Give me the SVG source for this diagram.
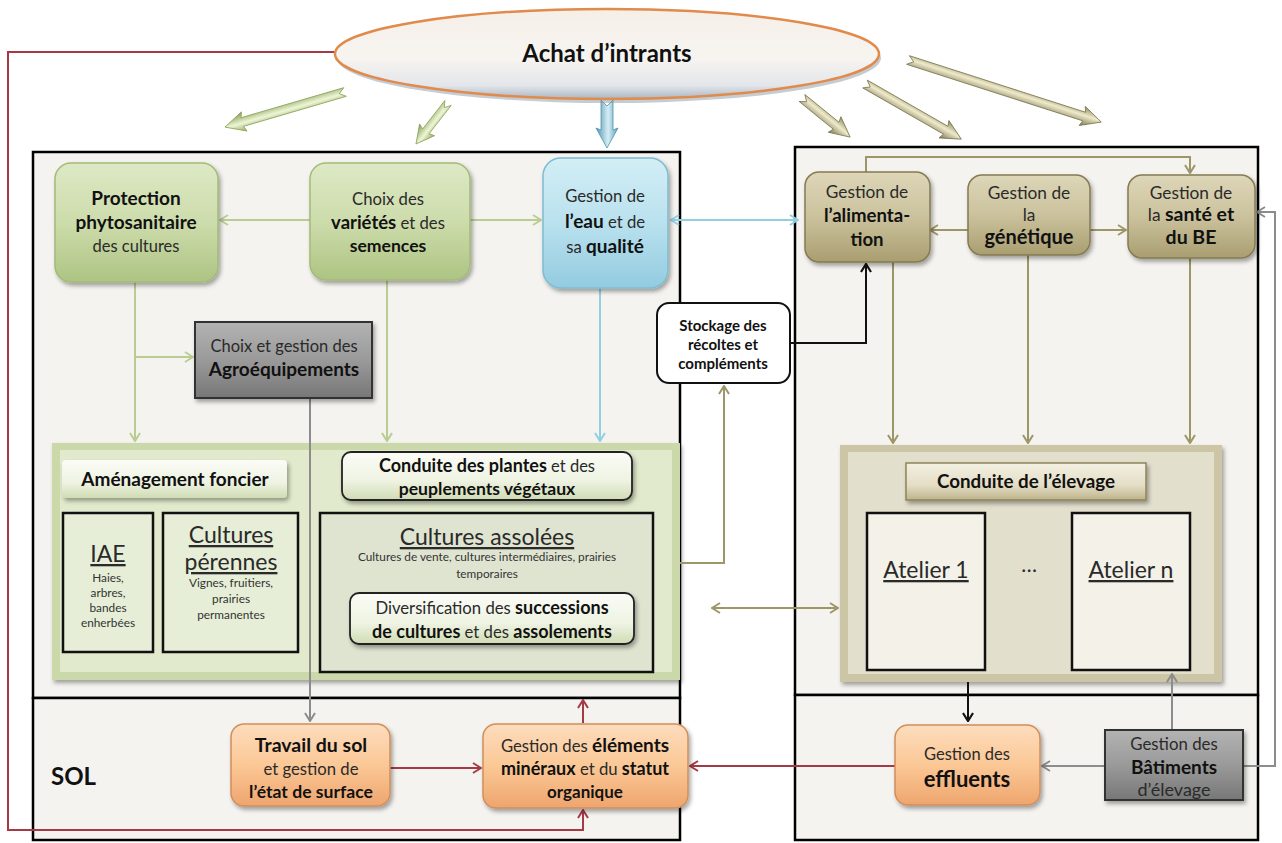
<svg xmlns="http://www.w3.org/2000/svg" width="1282" height="843" viewBox="0 0 1282 843">
<defs>
<style>
text{font-family:Lato,"Liberation Sans",sans-serif;fill:#2a2a2a;text-anchor:middle;font-size:16.7px}
.b{font-weight:bold;fill:#111}
.sm{font-size:11.8px;fill:#333}
.big{font-size:23px}
.u{text-decoration:underline}
.frame{fill:#f4f3ef;stroke:#000;stroke-width:2.5}
.gn{fill:url(#gGreen);stroke:#a3bb77;stroke-width:1.5}
.bl{fill:url(#gBlue);stroke:#7dbcd2;stroke-width:1.5}
.kh{fill:url(#gKhaki);stroke:#857b52;stroke-width:1.5}
.or{fill:url(#gOrange);stroke:#d08f5c;stroke-width:1.5}
.gr{fill:url(#gGray);stroke:#333;stroke-width:2}
.cg{stroke:#b9cd93;stroke-width:2;fill:none}
.cb{stroke:#92cfe2;stroke-width:2;fill:none}
.co{stroke:#9d9666;stroke-width:2;fill:none}
.ck{stroke:#111;stroke-width:2;fill:none}
.cy{stroke:#8c8c8c;stroke-width:2;fill:none}
.cr{stroke:#a63a44;stroke-width:2;fill:none}
</style>
<filter id="sh" x="-10%" y="-10%" width="130%" height="140%"><feDropShadow dx="2" dy="3" stdDeviation="2" flood-color="#000" flood-opacity="0.35"/></filter>
<linearGradient id="gGreen" x1="0" y1="0" x2="0" y2="1"><stop offset="0" stop-color="#dde9c5"/><stop offset="0.5" stop-color="#cddcab"/><stop offset="1" stop-color="#adc483"/></linearGradient>
<linearGradient id="gBlue" x1="0" y1="0" x2="0" y2="1"><stop offset="0" stop-color="#d3eef6"/><stop offset="0.5" stop-color="#b9e1ee"/><stop offset="1" stop-color="#93cbe0"/></linearGradient>
<linearGradient id="gKhaki" x1="0" y1="0" x2="0" y2="1"><stop offset="0" stop-color="#ddd6b8"/><stop offset="0.5" stop-color="#cbc29d"/><stop offset="1" stop-color="#a99e70"/></linearGradient>
<linearGradient id="gOrange" x1="0" y1="0" x2="0" y2="1"><stop offset="0" stop-color="#fddcbd"/><stop offset="0.5" stop-color="#fbc896"/><stop offset="1" stop-color="#eea56e"/></linearGradient>
<linearGradient id="gGray" x1="0" y1="0" x2="0" y2="1"><stop offset="0" stop-color="#b3b3b3"/><stop offset="0.5" stop-color="#9a9a9a"/><stop offset="1" stop-color="#777"/></linearGradient>
<linearGradient id="gLabelG" x1="0" y1="0" x2="0" y2="1"><stop offset="0" stop-color="#fbfcf7"/><stop offset="0.6" stop-color="#eef3e2"/><stop offset="1" stop-color="#cfdcb3"/></linearGradient>
<linearGradient id="gLabelK" x1="0" y1="0" x2="0" y2="1"><stop offset="0" stop-color="#f3f0e2"/><stop offset="0.6" stop-color="#e4dec6"/><stop offset="1" stop-color="#bdb38a"/></linearGradient>
<linearGradient id="gEll" x1="0" y1="0" x2="0" y2="1"><stop offset="0" stop-color="#f6efe8"/><stop offset="0.55" stop-color="#f7f4f0"/><stop offset="0.85" stop-color="#e3e6ea"/><stop offset="1" stop-color="#a9b6c4"/></linearGradient>
<linearGradient id="aG" gradientUnits="userSpaceOnUse" x1="0" y1="-10" x2="0" y2="10"><stop offset="0" stop-color="#94ad62"/><stop offset="0.45" stop-color="#eef5d6"/><stop offset="1" stop-color="#7e9a4c"/></linearGradient>
<linearGradient id="aK" gradientUnits="userSpaceOnUse" x1="0" y1="-10" x2="0" y2="10"><stop offset="0" stop-color="#8f8a5c"/><stop offset="0.45" stop-color="#eeeacb"/><stop offset="1" stop-color="#7c7750"/></linearGradient>
<linearGradient id="aB" gradientUnits="userSpaceOnUse" x1="0" y1="-11" x2="0" y2="11"><stop offset="0" stop-color="#5c9fb8"/><stop offset="0.45" stop-color="#d6eef6"/><stop offset="1" stop-color="#4f93ad"/></linearGradient>
<marker id="mG" viewBox="0 0 10 12" refX="9" refY="6" markerWidth="10" markerHeight="12" markerUnits="userSpaceOnUse" orient="auto-start-reverse"><path d="M1,1 L9,6 L1,11" fill="none" stroke="#b9cd93" stroke-width="2"/></marker>
<marker id="mB" viewBox="0 0 10 12" refX="9" refY="6" markerWidth="10" markerHeight="12" markerUnits="userSpaceOnUse" orient="auto-start-reverse"><path d="M1,1 L9,6 L1,11" fill="none" stroke="#92cfe2" stroke-width="2"/></marker>
<marker id="mO" viewBox="0 0 10 12" refX="9" refY="6" markerWidth="10" markerHeight="12" markerUnits="userSpaceOnUse" orient="auto-start-reverse"><path d="M1,1 L9,6 L1,11" fill="none" stroke="#9d9666" stroke-width="2"/></marker>
<marker id="mK" viewBox="0 0 10 12" refX="9" refY="6" markerWidth="10" markerHeight="12" markerUnits="userSpaceOnUse" orient="auto-start-reverse"><path d="M1,1 L9,6 L1,11" fill="none" stroke="#111" stroke-width="2.2"/></marker>
<marker id="mY" viewBox="0 0 10 12" refX="9" refY="6" markerWidth="10" markerHeight="12" markerUnits="userSpaceOnUse" orient="auto-start-reverse"><path d="M1,1 L9,6 L1,11" fill="none" stroke="#8c8c8c" stroke-width="2"/></marker>
<marker id="mR" viewBox="0 0 10 12" refX="9" refY="6" markerWidth="10" markerHeight="12" markerUnits="userSpaceOnUse" orient="auto-start-reverse"><path d="M1,1 L9,6 L1,11" fill="none" stroke="#a63a44" stroke-width="2"/></marker>
</defs>

<g id="frames">
<rect class="frame" x="33" y="152" width="647" height="546"/>
<rect class="frame" x="33" y="698" width="647" height="142"/>
<rect class="frame" x="795" y="147" width="463" height="548"/>
<rect class="frame" x="795" y="695" width="463" height="145"/>
</g>

<g id="cont-vegetal">
<rect x="52" y="443" width="628" height="237" fill="#cbd9aa" filter="url(#sh)"/>
<rect x="60" y="450" width="612" height="222" fill="#e1eacc"/>
</g>
<g id="cont-elevage">
<rect x="840" y="445" width="382" height="237" fill="#cdc6a6" filter="url(#sh)"/>
<rect x="848" y="452" width="366" height="222" fill="#e3dfcd"/>
</g>

<g id="connectors">
<path class="cr" d="M337,52 H8 V830 H583 V810" marker-end="url(#mR)"/>
<path class="cg" d="M310,220 H220" marker-end="url(#mG)"/>
<path class="cg" d="M470,220 H541" marker-end="url(#mG)"/>
<path class="cg" d="M135,282 V441" marker-end="url(#mG)"/>
<path class="cg" d="M135,357 H193" marker-end="url(#mG)"/>
<path class="cg" d="M387,280 V441" marker-end="url(#mG)"/>
<path class="cb" d="M600,288 V441" marker-end="url(#mB)"/>
<path class="cb" d="M671,220 H798" marker-start="url(#mB)" marker-end="url(#mB)"/>
<path class="cy" d="M310,398 V721" marker-end="url(#mY)"/>
<path class="co" d="M680,563 H724 V386" marker-end="url(#mO)"/>
<path class="ck" d="M790,343 H866 V264" marker-end="url(#mK)"/>
<path class="co" d="M930,230 H968" marker-start="url(#mO)"/>
<path class="co" d="M1090,230 H1126" marker-end="url(#mO)"/>
<path class="co" d="M866,172 V157 H1190 V173" marker-end="url(#mO)"/>
<path class="co" d="M893,262 V443" marker-end="url(#mO)"/>
<path class="co" d="M1028,255 V443" marker-end="url(#mO)"/>
<path class="co" d="M1190,258 V443" marker-end="url(#mO)"/>
<path class="co" d="M712,608 H838" marker-start="url(#mO)" marker-end="url(#mO)"/>
<path class="ck" d="M968,682 V721" marker-end="url(#mK)"/>
<path class="cy" d="M1172,730 V674" marker-end="url(#mY)"/>
<path class="cy" d="M1243,766 H1275 V212 H1257" marker-end="url(#mY)"/>
<path class="cy" d="M1105,766 H1042" marker-end="url(#mY)"/>
<path class="cr" d="M895,766 H690" marker-end="url(#mR)"/>
<path class="cr" d="M390,768 H481" marker-end="url(#mR)"/>
<path class="cr" d="M583,723 V700" marker-end="url(#mR)"/>
</g>

<g id="input-arrows" stroke-width="0.8">
<path transform="translate(345,92) rotate(163.7)" d="M0,-4.5 L107,-4.5 L105,-10 L125,0 L105,10 L107,4.5 L0,4.5 L6,0 Z" fill="url(#aG)" stroke="#8aa35a"/>
<path transform="translate(448,103) rotate(128)" d="M0,-4 L36,-4 L34,-9.5 L52,0 L34,9.5 L36,4 L0,4 L6,0 Z" fill="url(#aG)" stroke="#8aa35a"/>
<path transform="translate(607,100) rotate(90)" d="M0,-6 L30,-6 L28,-11 L48,0 L28,11 L30,6 L0,6 L6,0 Z" fill="url(#aB)" stroke="#4f93ad"/>
<path transform="translate(802,98) rotate(39.1)" d="M0,-4.5 L44,-4.5 L42,-10 L62,0 L42,10 L44,4.5 L0,4.5 L6,0 Z" fill="url(#aK)" stroke="#7c7750"/>
<path transform="translate(865,84) rotate(29.8)" d="M0,-4.5 L93,-4.5 L91,-10 L111,0 L91,10 L93,4.5 L0,4.5 L6,0 Z" fill="url(#aK)" stroke="#7c7750"/>
<path transform="translate(908,60) rotate(17.8)" d="M0,-4.5 L185,-4.5 L183,-10 L203,0 L183,10 L185,4.5 L0,4.5 L6,0 Z" fill="url(#aK)" stroke="#7c7750"/>
</g>

<g id="achat">
<ellipse cx="609" cy="58" rx="272" ry="45" fill="#7f8d9c" opacity="0.45"/>
<ellipse cx="607" cy="54" rx="272" ry="45" fill="url(#gEll)" stroke="#e08a4c" stroke-width="2.5"/>
<text x="607" y="62" class="b" style="font-size:24px">Achat d’intrants</text>
</g>

<g id="protection">
<rect class="gn" x="55" y="163" width="163" height="119" rx="16" filter="url(#sh)"/>
<text x="136" y="205" class="b" style="font-size:19px">Protection</text>
<text x="136" y="229" class="b" style="font-size:19px">phytosanitaire</text>
<text x="136" y="252" style="font-size:16.5px">des cultures</text>
</g>
<g id="varietes">
<rect class="gn" x="310" y="163" width="160" height="117" rx="16" filter="url(#sh)"/>
<text x="388" y="205">Choix des</text>
<text x="388" y="229"><tspan class="b" style="font-size:18.5px">variétés</tspan> et des</text>
<text x="388" y="252" class="b" style="font-size:17.6px">semences</text>
</g>
<g id="eau">
<rect class="bl" x="543" y="158" width="125" height="130" rx="18" filter="url(#sh)"/>
<text x="605" y="202">Gestion de</text>
<text x="605" y="228"><tspan class="b" style="font-size:19px">l’eau</tspan> et de</text>
<text x="605" y="253">sa <tspan class="b" style="font-size:19px">qualité</tspan></text>
</g>
<g id="agro">
<rect class="gr" x="195" y="322" width="177" height="76" filter="url(#sh)"/>
<text x="284" y="352" style="font-size:16.5px">Choix et gestion des</text>
<text x="284" y="376" class="b" style="font-size:19px">Agroéquipements</text>
</g>
<g id="stockage">
<rect x="657" y="303" width="133" height="80" rx="12" fill="#fff" stroke="#111" stroke-width="2"/>
<text x="723" y="331" class="b" style="font-size:15px">Stockage des</text>
<text x="723" y="350" class="b" style="font-size:15px">récoltes et</text>
<text x="723" y="369" class="b" style="font-size:15px">compléments</text>
</g>

<g id="amenagement">
<rect x="62" y="460" width="225" height="38" rx="4" fill="url(#gLabelG)" filter="url(#sh)"/>
<text x="175" y="486" class="b" style="font-size:19px">Aménagement foncier</text>
</g>
<g id="iae">
<rect x="63" y="513" width="90" height="139" fill="#e6eed7" stroke="#111" stroke-width="2.5"/>
<text x="108" y="562" class="big u">IAE</text>
<text x="108" y="582" class="sm">Haies,</text>
<text x="108" y="597" class="sm">arbres,</text>
<text x="108" y="612" class="sm">bandes</text>
<text x="108" y="627" class="sm">enherbées</text>
</g>
<g id="perennes">
<rect x="163" y="513" width="135" height="139" fill="#e6eed7" stroke="#111" stroke-width="2.5"/>
<text x="231" y="543" class="big u">Cultures</text>
<text x="231" y="570" class="big u">pérennes</text>
<text x="231" y="587" class="sm">Vignes, fruitiers,</text>
<text x="231" y="603" class="sm">prairies</text>
<text x="231" y="619" class="sm">permanentes</text>
</g>
<g id="conduite-plantes">
<rect x="342" y="452" width="290" height="48" rx="9" fill="url(#gLabelG)" stroke="#222" stroke-width="1.8" filter="url(#sh)"/>
<text x="487" y="472" style="font-size:16.5px"><tspan class="b" style="font-size:18px">Conduite des plantes</tspan> et des</text>
<text x="487" y="495" class="b" style="font-size:17.6px">peuplements végétaux</text>
</g>
<g id="assolees">
<rect x="320" y="513" width="333" height="159" fill="#dfe4d1" stroke="#111" stroke-width="2.5"/>
<text x="487" y="545" class="big u">Cultures assolées</text>
<text x="487" y="561" class="sm">Cultures de vente, cultures intermédiaires, prairies</text>
<text x="487" y="578" class="sm">temporaires</text>
</g>
<g id="diversification">
<rect x="350" y="593" width="284" height="51" rx="9" fill="url(#gLabelG)" stroke="#222" stroke-width="1.8" filter="url(#sh)"/>
<text x="492" y="614">Diversification des <tspan class="b" style="font-size:18px">successions</tspan></text>
<text x="492" y="638"><tspan class="b" style="font-size:18px">de cultures</tspan> et des <tspan class="b" style="font-size:18px">assolements</tspan></text>
</g>

<g id="alimentation">
<rect class="kh" x="805" y="172" width="125" height="90" rx="14" filter="url(#sh)"/>
<text x="867" y="198" style="font-size:17.3px">Gestion de</text>
<text x="867" y="222" class="b" style="font-size:18.6px">l’alimenta-</text>
<text x="867" y="246" class="b" style="font-size:18.6px">tion</text>
</g>
<g id="genetique">
<rect class="kh" x="968" y="175" width="122" height="80" rx="14" filter="url(#sh)"/>
<text x="1029" y="199" style="font-size:17.3px">Gestion de</text>
<text x="1029" y="221" style="font-size:17.3px">la</text>
<text x="1029" y="244" class="b" style="font-size:20px">génétique</text>
</g>
<g id="sante">
<rect class="kh" x="1128" y="175" width="127" height="83" rx="14" filter="url(#sh)"/>
<text x="1191" y="199" style="font-size:17.3px">Gestion de</text>
<text x="1191" y="221" style="font-size:17.3px">la <tspan class="b" style="font-size:19.5px">santé et</tspan></text>
<text x="1191" y="244" class="b" style="font-size:19.5px">du BE</text>
</g>
<g id="conduite-elevage">
<rect x="906" y="463" width="240" height="37" fill="url(#gLabelK)" stroke="#8d845a" stroke-width="1.5" filter="url(#sh)"/>
<text x="1026" y="488" class="b" style="font-size:18.8px">Conduite de l’élevage</text>
</g>
<g id="atelier1">
<rect x="867" y="513" width="118" height="157" fill="#f3f1e8" stroke="#111" stroke-width="2.5"/>
<text x="926" y="578" class="u" style="font-size:23px">Atelier 1</text>
</g>
<text x="1029" y="572" style="font-size:21px">…</text>
<g id="ateliern">
<rect x="1072" y="513" width="118" height="157" fill="#f3f1e8" stroke="#111" stroke-width="2.5"/>
<text x="1131" y="578" class="u" style="font-size:23px">Atelier n</text>
</g>

<text x="51" y="785" class="b" style="font-size:24px;text-anchor:start">SOL</text>
<g id="travail">
<rect class="or" x="231" y="724" width="159" height="82" rx="13" filter="url(#sh)"/>
<text x="311" y="752" class="b" style="font-size:19.5px">Travail du sol</text>
<text x="311" y="775">et gestion de</text>
<text x="311" y="798" class="b" style="font-size:17.6px">l’état de surface</text>
</g>
<g id="elements">
<rect class="or" x="483" y="724" width="205" height="84" rx="13" filter="url(#sh)"/>
<text x="585" y="752">Gestion des <tspan class="b" style="font-size:19px">éléments</tspan></text>
<text x="585" y="775"><tspan class="b" style="font-size:18px">minéraux</tspan> et du <tspan class="b" style="font-size:18px">statut</tspan></text>
<text x="585" y="798" class="b" style="font-size:17px">organique</text>
</g>
<g id="effluents">
<rect class="or" x="895" y="725" width="145" height="80" rx="13" filter="url(#sh)"/>
<text x="967" y="760" style="font-size:16.5px">Gestion des</text>
<text x="967" y="787" class="b" style="font-size:22px">effluents</text>
</g>
<g id="batiments">
<rect class="gr" x="1105" y="730" width="138" height="70" filter="url(#sh)"/>
<text x="1174" y="750" style="font-size:16.8px">Gestion des</text>
<text x="1174" y="774" class="b" style="font-size:19px">Bâtiments</text>
<text x="1174" y="796" style="font-size:18px">d’élevage</text>
</g>
</svg>
